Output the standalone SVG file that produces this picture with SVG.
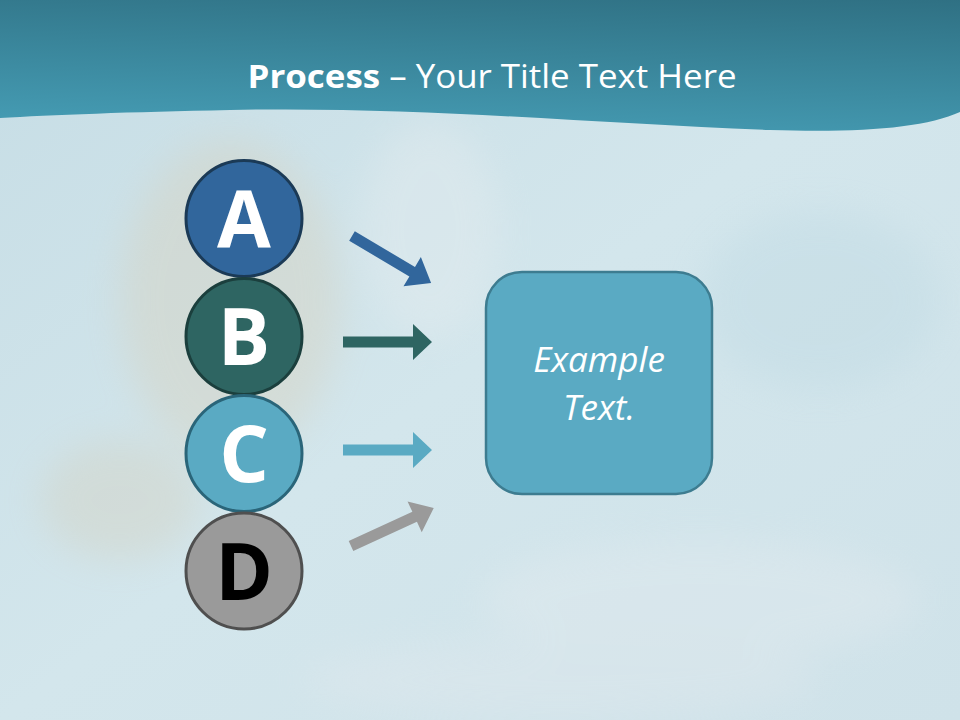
<svg xmlns="http://www.w3.org/2000/svg" width="960" height="720" viewBox="0 0 960 720">
<defs>
<linearGradient id="bg" x1="0" y1="0" x2="1" y2="1">
<stop offset="0" stop-color="#c6dde5"/>
<stop offset="0.5" stop-color="#d3e6ec"/>
<stop offset="1" stop-color="#cfe2e9"/>
</linearGradient>
<linearGradient id="hdr" x1="0" y1="1" x2="0.35" y2="-0.4">
<stop offset="0" stop-color="#469eb6"/>
<stop offset="1" stop-color="#2b687a"/>
</linearGradient>
<filter id="blur" x="-50%" y="-50%" width="200%" height="200%"><feGaussianBlur stdDeviation="18"/></filter>
<style>
.circ{stroke-width:3}
.letter{font-family:"Open Sans","Liberation Sans",sans-serif;font-weight:bold;font-size:78px;text-anchor:middle}
.ex{font-family:"Open Sans","Liberation Sans",sans-serif;font-style:italic;font-size:35px;fill:#ffffff;text-anchor:middle}
</style>
</defs>
<rect width="960" height="720" fill="url(#bg)"/>
<g filter="url(#blur)" opacity="0.35">
<ellipse cx="230" cy="300" rx="110" ry="160" fill="#d9cdb4"/>
<ellipse cx="430" cy="230" rx="70" ry="110" fill="#e9eef0"/>
<ellipse cx="120" cy="500" rx="80" ry="60" fill="#d4cdb8"/>
<ellipse cx="700" cy="600" rx="220" ry="60" fill="#e6ecf0"/>
<ellipse cx="820" cy="300" rx="120" ry="90" fill="#bcd8e2"/>
<ellipse cx="560" cy="680" rx="260" ry="40" fill="#e3e9ee"/>
</g>
<path d="M0,0 H960 V112 C925,128 860,133 770,130 C600,124 420,106 230,110 C130,112 50,115 0,118 Z" fill="url(#hdr)"/>
<text x="492" y="88" font-family="'Open Sans','Liberation Sans',sans-serif" font-size="33" fill="#ffffff" text-anchor="middle" textLength="489" lengthAdjust="spacingAndGlyphs"><tspan font-weight="bold">Process</tspan> – Your Title Text Here</text>
<g id="connectors">
<polygon points="0,-5.5 70,-5.5 70,-17 92,0 70,17 70,5.5 0,5.5" fill="#31669c" transform="translate(352,236) rotate(30.7)"/>
<polygon points="0,-5.5 70,-5.5 70,-18 89,0 70,18 70,5.5 0,5.5" fill="#2e6562" transform="translate(343,342)"/>
<polygon points="0,-5.5 70,-5.5 70,-18 89,0 70,18 70,5.5 0,5.5" fill="#5aaac3" transform="translate(343,450)"/>
<polygon points="0,-5.5 70,-5.5 70,-17 91,0 70,17 70,5.5 0,5.5" fill="#9a9a9a" transform="translate(351,546) rotate(-24.6)"/>
</g>
<g id="node-a">
<circle class="circ" cx="244" cy="218.5" r="58" fill="#31669c" stroke="#1b3a56"/>
<text class="letter" x="244" y="247" fill="#ffffff">A</text>
</g>
<g id="node-b">
<circle class="circ" cx="244" cy="336.5" r="58" fill="#2e6562" stroke="#1b3f3d"/>
<text class="letter" x="244" y="365" fill="#ffffff">B</text>
</g>
<g id="node-c">
<circle class="circ" cx="244" cy="453.5" r="58" fill="#5aaac3" stroke="#2a6579"/>
<text class="letter" x="244" y="482" fill="#ffffff">C</text>
</g>
<g id="node-d">
<circle class="circ" cx="244" cy="571" r="58" fill="#9a9a9a" stroke="#4f4f4f"/>
<text class="letter" x="244" y="600" fill="#000000">D</text>
</g>
<g id="node-box">
<rect x="486" y="272" width="226" height="222" rx="36" fill="#5aaac3" stroke="#3d7c90" stroke-width="2.5"/>
<text class="ex" x="599" y="372">Example</text>
<text class="ex" x="599" y="420">Text.</text>
</g>
</svg>
